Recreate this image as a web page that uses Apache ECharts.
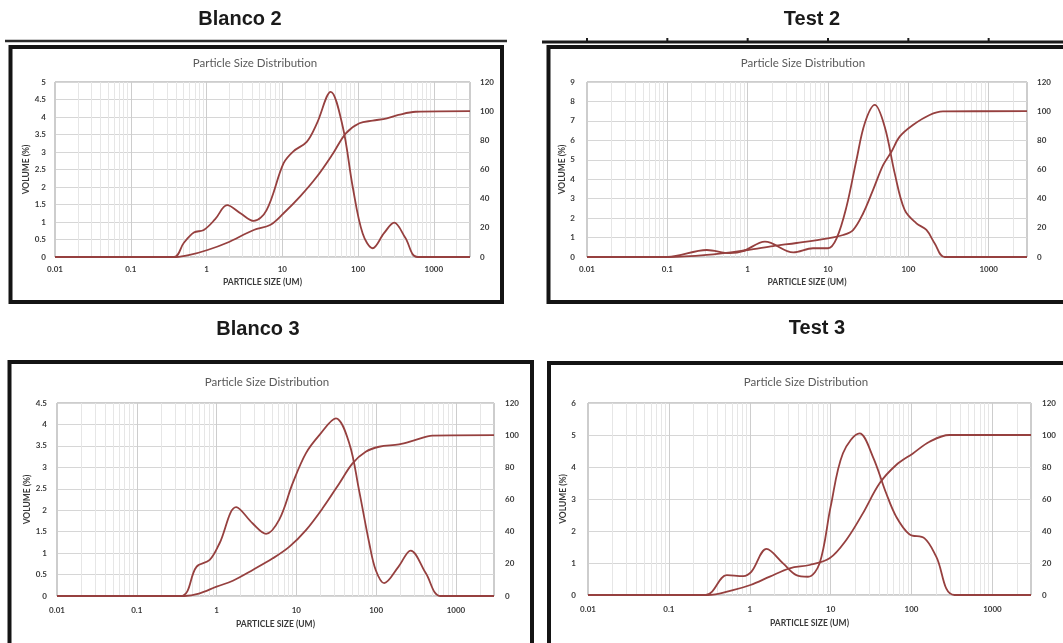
<!DOCTYPE html>
<html>
<head>
<meta charset="utf-8">
<script src="https://cdn.jsdelivr.net/npm/echarts@6/dist/echarts.min.js"></script>
<style>
  html, body { margin: 0; padding: 0; background: #ffffff; }
  #chart { width: 1063px; height: 643px; }
</style>
</head>
<body>
<div id="chart"></div>
<script>
// ---- text ----
const panelNames = ['Blanco 2', 'Test 2', 'Blanco 3', 'Test 3'];
const chartTitle = 'Particle Size Distribution';
const xName = 'PARTICLE SIZE (UM)';
const yName = 'VOLUME (%)';
const sizeTicks = ['0.01', '0.1', '1', '10', '100', '1000'];

// ---- axis ranges ----
const sizeMin = 0.01;
const sizeMax = 3000;
const volumeMax = [5, 9, 4.5, 6];
const volumeStep = [0.5, 1, 0.5, 1];
const cumulativeMax = 120;
const cumulativeStep = 20;

// ---- Blanco 2 ----
const blanco2VolSize = [0.01, 0.37, 0.5, 0.68, 0.92, 1.3, 1.87, 2.8, 4.2, 6.2, 10.4, 14, 21, 28.5, 43.5, 62.8, 85, 115, 156, 220, 299, 420, 605, 3000];
const blanco2Vol     = [0, 0, 0.4, 0.7, 0.77, 1.08, 1.48, 1.25, 1.03, 1.34, 2.68, 3.02, 3.29, 3.81, 4.72, 3.72, 2.0, 0.67, 0.25, 0.68, 0.98, 0.55, 0, 0];
const blanco2CumSize = [0.01, 0.4, 0.6, 1.03, 1.87, 4.2, 6.9, 10.4, 17.1, 28.5, 46.7, 69, 104, 156, 240, 340, 575, 3000];
const blanco2Cum     = [0, 0, 1.4, 4.8, 9.8, 18.5, 21.9, 30, 41.4, 55, 71, 84.8, 91.7, 93.5, 95.1, 97.4, 99.6, 100];

// ---- Test 2 ----
const test2VolSize = [0.01, 0.1, 0.31, 0.6, 0.88, 1.64, 3.7, 6.5, 10, 12.8, 17, 22.6, 28.7, 38.2, 50.8, 67.7, 90, 126, 168, 213, 284, 3000];
const test2Vol     = [0, 0, 0.36, 0.2, 0.3, 0.79, 0.24, 0.45, 0.45, 0.96, 2.59, 4.99, 6.88, 7.82, 6.7, 4.3, 2.42, 1.73, 1.39, 0.7, 0, 0];
const test2CumSize = [0.01, 0.1, 0.31, 1, 2.07, 4.06, 10, 15.4, 20.5, 27.4, 36.4, 48.5, 61.6, 78, 114, 184, 270, 3000];
const test2Cum     = [0, 0, 1.4, 4.8, 7.5, 9.6, 12.8, 15.1, 18.5, 30, 46, 63, 72.2, 82.5, 90.5, 97.4, 99.8, 100];

// ---- Blanco 3 ----
const blanco3VolSize = [0.01, 0.355, 0.56, 0.82, 1.09, 1.76, 2.84, 4.17, 6.1, 9, 13.2, 19.4, 31.3, 46, 61, 82, 99, 126, 190, 271, 420, 643, 3000];
const blanco3Vol     = [0, 0, 0.68, 0.84, 1.23, 2.07, 1.69, 1.45, 1.78, 2.63, 3.33, 3.75, 4.14, 3.56, 2.47, 1.23, 0.6, 0.3, 0.68, 1.06, 0.53, 0, 0];
const blanco3CumSize = [0.01, 0.4, 0.6, 1, 1.6, 2.84, 5.06, 8.2, 13.2, 21.3, 34.5, 50.6, 74, 109, 194, 313, 506, 3000];
const blanco3Cum     = [0, 0, 1.5, 5.8, 9.5, 16.2, 23.4, 30.7, 41, 54.5, 70, 82.5, 89.7, 92.8, 94.3, 97, 99.7, 100];

// ---- Test 3 ----
const test3VolSize = [0.01, 0.286, 0.52, 0.83, 1.05, 1.61, 2.58, 3.77, 5.25, 7.3, 10, 14.2, 22.8, 33.3, 48.6, 64.6, 94, 145, 202, 339, 3000];
const test3Vol     = [0, 0, 0.62, 0.59, 0.73, 1.44, 0.99, 0.62, 0.57, 0.99, 2.76, 4.43, 5.05, 4.32, 3.18, 2.45, 1.9, 1.77, 1.2, 0, 0];
const test3CumSize = [0.01, 0.3, 0.62, 1.02, 1.77, 3.12, 5.5, 9.7, 15.6, 25, 40.3, 64.6, 104, 167, 294, 3000];
const test3Cum     = [0, 0, 3.1, 6.25, 11.5, 16.7, 18.75, 22.9, 34.4, 51, 69.8, 81.25, 88.5, 95.8, 100, 100];

const volumeSets = [
  [blanco2VolSize, blanco2Vol], [test2VolSize, test2Vol],
  [blanco3VolSize, blanco3Vol], [test3VolSize, test3Vol]
];
const cumulativeSets = [
  [blanco2CumSize, blanco2Cum], [test2CumSize, test2Cum],
  [blanco3CumSize, blanco3Cum], [test3CumSize, test3Cum]
];

// ---- layout ----
const grids = [
  { left: 55,  top: 82,  width: 415, height: 175 },
  { left: 587, top: 82,  width: 440, height: 175 },
  { left: 57,  top: 403, width: 437, height: 193 },
  { left: 588, top: 403, width: 443, height: 192 }
];
const headerPos = [[240, 19], [812, 19], [258, 329], [817, 328]];
const titlePos  = [[255, 63], [803, 63], [267, 382], [806, 382]];
const boxes = [
  { x: 10.5, y: 47,  width: 491.5, height: 255 },
  { x: 548.5, y: 47, width: 530,   height: 255 },
  { x: 9.5,  y: 362, width: 522.5, height: 300 },
  { x: 549,  y: 363, width: 530,   height: 300 }
];
const xLabelMargin = [8, 8, 10, 10];
const xNameGap     = [21, 21, 24, 24];
const yLabelMargin = [9, 12, 10, 12];
const yNameGap     = [20, 16, 22, 15];
const rightMargin  = [10, 10, 11, 11];

const lineColor = '#96403f';
const labelFont = { fontFamily: 'Lato', fontWeight: 'bold', fontSize: 8, color: '#3a3a3a' };
const nameFont  = { fontFamily: 'Lato', fontWeight: 'bold', fontSize: 8.5, color: '#3a3a3a' };

// minor vertical grid positions: 2..9 within each decade
const minorSizes = [];
for (let e = -2; e <= 3; e++) {
  for (let m = 2; m <= 9; m++) {
    const v = +(m * Math.pow(10, e)).toPrecision(6);
    if (v < sizeMax) minorSizes.push(v);
  }
}

function pairs(xs, ys) { return xs.map((x, i) => [x, ys[i]]); }

const option = {
  animation: false,
  backgroundColor: '#ffffff',
  grid: [], xAxis: [], yAxis: [], series: [], graphic: []
};

grids.forEach((g, i) => {
  option.grid.push(Object.assign({
    show: true, borderColor: '#9a9a9a', borderWidth: 1,
    backgroundColor: '#ffffff', containLabel: false, outerBoundsMode: 'none'
  }, g));

  option.xAxis.push({
    type: 'log', gridIndex: i, min: sizeMin, max: sizeMax, logBase: 10,
    name: xName, nameLocation: 'middle', nameGap: xNameGap[i],
    nameTextStyle: nameFont,
    axisLine: { show: false }, axisTick: { show: false },
    axisLabel: Object.assign({
      margin: xLabelMargin[i], showMaxLabel: false,
      formatter: v => {
        const s = String(+Number(v).toPrecision(6));
        return sizeTicks.indexOf(s) >= 0 ? s : '';
      }
    }, labelFont),
    splitLine: { show: true, lineStyle: { color: '#cdcdcd', width: 1 } }
  });

  option.yAxis.push({
    type: 'value', gridIndex: i, position: 'left',
    min: 0, max: volumeMax[i], interval: volumeStep[i],
    name: yName, nameLocation: 'middle', nameGap: yNameGap[i], nameRotate: 90,
    nameTextStyle: nameFont,
    axisLine: { show: false }, axisTick: { show: false },
    axisLabel: Object.assign({ margin: yLabelMargin[i] }, labelFont),
    splitLine: { show: true, lineStyle: { color: '#d6d6d6', width: 1 } }
  });
  option.yAxis.push({
    type: 'value', gridIndex: i, position: 'right',
    min: 0, max: cumulativeMax, interval: cumulativeStep,
    axisLine: { show: false }, axisTick: { show: false },
    axisLabel: Object.assign({ margin: rightMargin[i] }, labelFont),
    splitLine: { show: false }
  });

  // minor grid lines, kept beneath the curves
  option.series.push({
    type: 'line', xAxisIndex: i, yAxisIndex: i * 2, data: [], z: 0, silent: true,
    markLine: {
      silent: true, symbol: 'none', animation: false, z: 0,
      label: { show: false },
      emphasis: { disabled: true },
      lineStyle: { color: '#e6e6e6', width: 1, type: 'solid' },
      data: minorSizes.map(v => ({ xAxis: v }))
    }
  });

  const lineStyle = { color: lineColor, width: 1.8 };
  option.series.push({
    name: 'Volume', type: 'line', xAxisIndex: i, yAxisIndex: i * 2,
    data: pairs(volumeSets[i][0], volumeSets[i][1]),
    smooth: 0.35, showSymbol: false, lineStyle: lineStyle, itemStyle: { color: lineColor }, z: 6
  });
  option.series.push({
    name: 'Cumulative', type: 'line', xAxisIndex: i, yAxisIndex: i * 2 + 1,
    data: pairs(cumulativeSets[i][0], cumulativeSets[i][1]),
    smooth: 0.35, showSymbol: false, lineStyle: lineStyle, itemStyle: { color: lineColor }, z: 6
  });

  // panel frame, heading and chart title
  option.graphic.push({
    type: 'rect', shape: boxes[i], silent: true, z: 10,
    style: { fill: null, stroke: '#141414', lineWidth: 4 }
  });
  option.graphic.push({
    type: 'text', silent: true, z: 10,
    style: {
      x: headerPos[i][0], y: headerPos[i][1], text: panelNames[i],
      align: 'center', verticalAlign: 'middle',
      font: 'bold 20px "Liberation Sans", Arial, sans-serif', fill: '#1a1a1a'
    }
  });
  option.graphic.push({
    type: 'text', silent: true, z: 10,
    style: {
      x: titlePos[i][0], y: titlePos[i][1], text: chartTitle,
      align: 'center', verticalAlign: 'middle',
      font: '11.5px Lato, sans-serif', fill: '#595959'
    }
  });
});

// rules under the top headings
option.graphic.push({
  type: 'line', silent: true, z: 10,
  shape: { x1: 5, y1: 41, x2: 507, y2: 41 },
  style: { stroke: '#2a2a2a', lineWidth: 2.5 }
});
option.graphic.push({
  type: 'line', silent: true, z: 10,
  shape: { x1: 542, y1: 42, x2: 1070, y2: 42 },
  style: { stroke: '#1a1a1a', lineWidth: 3 }
});

const chart = echarts.init(document.getElementById('chart'), null, { renderer: 'canvas' });
chart.setOption(option);

// small tick marks on the Test 2 rule, one per decade of its size axis
const ruleTicks = sizeTicks.map(t => {
  const px = chart.convertToPixel({ xAxisIndex: 1 }, Number(t));
  return {
    type: 'line', silent: true, z: 10,
    shape: { x1: px, y1: 38, x2: px, y2: 41 },
    style: { stroke: '#1a1a1a', lineWidth: 2 }
  };
});
chart.setOption({ graphic: option.graphic.concat(ruleTicks) });
</script>
</body>
</html>
